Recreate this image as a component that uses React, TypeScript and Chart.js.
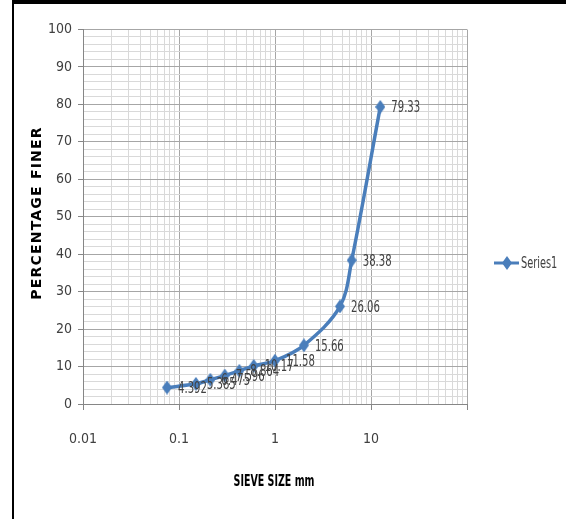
import React, { useEffect, useRef } from "react";
import { Chart, registerables } from "chart.js";

Chart.register(...registerables);

const sieveSizes = [0.075, 0.15, 0.212, 0.3, 0.425, 0.6, 1.0, 2.0, 4.75, 6.3, 12.5];
const percentFiner = [4.392, 5.385, 6.475, 7.596, 8.864, 10.17, 11.58, 15.66, 26.06, 38.38, 79.33];
const seriesName = "Series1";
const xMajorTicks = [0.01, 0.1, 1, 10, 100];
const xTickLabels = ["0.01", "0.1", "1", "10", ""];
const xTitle = "SIEVE SIZE mm";
const yTitle = "PERCENTAGE FINER";

const LINE_COLOR = "#4A7EBB";
const NARROW = "'Liberation Sans Narrow', 'DejaVu Sans Condensed', 'Arial Narrow', sans-serif";

function isMajorX(v: number) {
  return xMajorTicks.some((m) => Math.abs(v - m) / m < 1e-6);
}

function makeDiamond(w: number, h: number, color: string) {
  const c = document.createElement("canvas");
  c.width = w;
  c.height = h;
  const g = c.getContext("2d")!;
  g.fillStyle = color;
  g.beginPath();
  g.moveTo(w / 2, 0);
  g.lineTo(w, h / 2);
  g.lineTo(w / 2, h);
  g.lineTo(0, h / 2);
  g.closePath();
  g.fill();
  return c;
}

function squishText(ctx: CanvasRenderingContext2D, text: string, x: number, y: number, sx: number) {
  ctx.save();
  ctx.translate(x, y);
  ctx.scale(sx, 1);
  ctx.fillText(text, 0, 0);
  ctx.restore();
}

export default function App() {
  const ref = useRef<HTMLCanvasElement | null>(null);

  useEffect(() => {
    const canvas = ref.current!;
    const diamond = makeDiamond(10, 14, LINE_COLOR);

    const labelsPlugin = {
      id: "extras",
      afterDatasetsDraw(chart: any) {
        const ctx = chart.ctx;
        const meta = chart.getDatasetMeta(0);
        ctx.save();
        ctx.font = `16.5px ${NARROW}`;
        ctx.fillStyle = "#404040";
        ctx.textAlign = "left";
        ctx.textBaseline = "middle";
        meta.data.forEach((pt: any, i: number) => {
          squishText(ctx, String(percentFiner[i]), pt.x + 11, pt.y + 1, 0.68);
        });
        ctx.restore();
      },
      afterDraw(chart: any) {
        const ctx = chart.ctx;
        const area = chart.chartArea;
        ctx.save();
        // x title
        ctx.font = `bold 16px ${NARROW}`;
        ctx.fillStyle = "#000";
        ctx.textAlign = "center";
        ctx.textBaseline = "middle";
        squishText(ctx, xTitle, (area.left + area.right) / 2 - 1, 482, 0.66);
        // y title
        ctx.save();
        ctx.translate(37, 213);
        ctx.rotate(-Math.PI / 2);
        ctx.font = "bold 14px 'DejaVu Sans', sans-serif";
        (ctx as any).letterSpacing = "1.2px";
        ctx.fillStyle = "#000";
        ctx.fillText(yTitle, 0, 0);
        ctx.restore();
        // legend
        const ly = 263;
        ctx.strokeStyle = LINE_COLOR;
        ctx.lineWidth = 3;
        ctx.beginPath();
        ctx.moveTo(494, ly);
        ctx.lineTo(519, ly);
        ctx.stroke();
        ctx.drawImage(diamond, 507 - 5, ly - 7);
        ctx.font = `16px ${NARROW}`;
        ctx.fillStyle = "#404040";
        ctx.textAlign = "left";
        squishText(ctx, seriesName, 521, ly + 1, 0.68);
        ctx.restore();
      },
    };

    const chart = new Chart(canvas, {
      type: "line",
      data: {
        datasets: [
          {
            label: seriesName,
            data: sieveSizes.map((x, i) => ({ x, y: percentFiner[i] })),
            borderColor: LINE_COLOR,
            backgroundColor: LINE_COLOR,
            borderWidth: 3.5,
            tension: 0.35,
            pointStyle: diamond as any,
            pointRadius: 6,
            pointHoverRadius: 6,
          },
        ],
      },
      options: {
        responsive: false,
        animation: false,
        devicePixelRatio: 1,
        layout: { padding: { top: 29.5, right: 99, left: 0, bottom: 0 } },
        plugins: { legend: { display: false }, tooltip: { enabled: false } },
        scales: {
          x: {
            type: "logarithmic",
            min: 0.01,
            max: 100,
            afterBuildTicks(scale: any) {
              const ticks: any[] = [];
              for (let d = 0; d < xMajorTicks.length - 1; d++) {
                for (let m = 1; m <= 9; m++) {
                  ticks.push({ value: Number((xMajorTicks[d] * m).toPrecision(6)) });
                }
              }
              ticks.push({ value: xMajorTicks[xMajorTicks.length - 1] });
              scale.ticks = ticks;
            },
            afterFit(scale: any) {
              scale.height = 115;
            },
            ticks: {
              autoSkip: false,
              maxRotation: 0,
              minRotation: 0,
              padding: 21,
              color: "#404040",
              font: { family: NARROW, size: 14 },
              callback(value: any) {
                const idx = xMajorTicks.findIndex((m) => Math.abs(Number(value) - m) / m < 1e-6);
                return idx >= 0 ? xTickLabels[idx] : "";
              },
            },
            grid: {
              color: (c: any) => (c.tick && isMajorX(c.tick.value) ? "#A6A6A6" : "#D9D9D9"),
              tickColor: (c: any) => (c.tick && isMajorX(c.tick.value) ? "#868686" : "rgba(0,0,0,0)"),
              tickLength: 6,
              lineWidth: 1,
            },
            border: { color: "#868686", width: 1 },
          },
          y: {
            type: "linear",
            min: 0,
            max: 100,
            afterFit(scale: any) {
              scale.width = 83;
            },
            ticks: {
              stepSize: 2,
              autoSkip: false,
              padding: 6,
              color: "#404040",
              font: { family: NARROW, size: 14 },
              callback(value: any) {
                return Number(value) % 10 === 0 ? String(value) : "";
              },
            },
            grid: {
              color: (c: any) => (c.tick && c.tick.value % 10 === 0 ? "#A6A6A6" : "#D9D9D9"),
              tickColor: (c: any) => (c.tick && c.tick.value % 10 === 0 ? "#868686" : "rgba(0,0,0,0)"),
              tickLength: 5,
              lineWidth: 1,
            },
            border: { color: "#868686", width: 1 },
          },
        },
      },
      plugins: [labelsPlugin],
    } as any);

    return () => chart.destroy();
  }, []);

  return (
    <div style={{ position: "fixed", left: 0, top: 0, width: 566, height: 519, background: "#fff" }}>
      <canvas ref={ref} width={566} height={519} style={{ position: "absolute", left: 0, top: 0 }} />
      <div
        style={{
          position: "absolute",
          left: 12,
          top: 0,
          width: 554,
          height: 519,
          borderTop: "4px solid #000",
          borderLeft: "2px solid #000",
          boxSizing: "border-box",
          pointerEvents: "none",
        }}
      />
    </div>
  );
}
